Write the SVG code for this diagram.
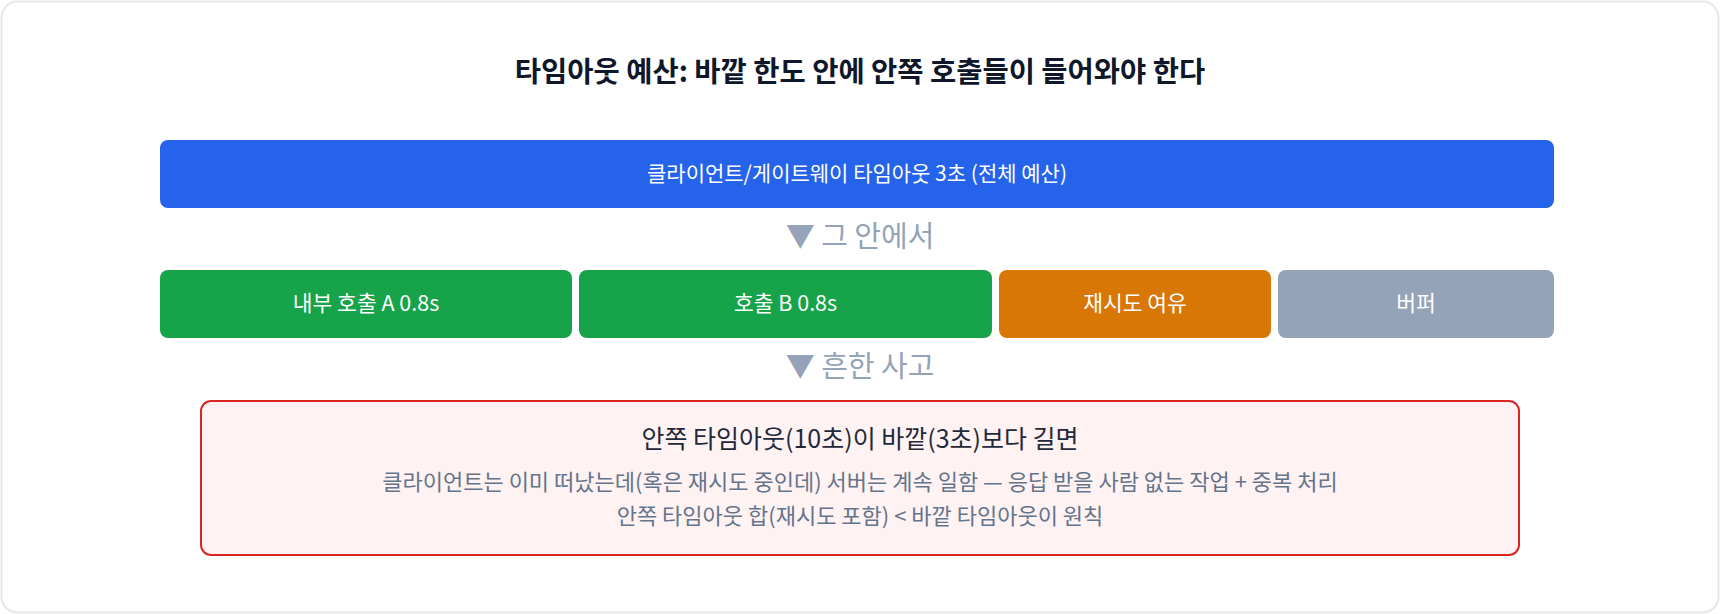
<svg xmlns="http://www.w3.org/2000/svg" width="1720" height="614" viewBox="0 0 1720 614">
<style>
text{font-family:"Noto Sans CJK KR","Noto Sans CJK JP",sans-serif;text-anchor:middle}
.title{font-size:28.5px;font-weight:700;fill:#0f172a}
.lbl{font-size:21px;fill:#ffffff}
.blbl{font-size:21.5px;fill:#ffffff}
.sep{font-size:29px;fill:#94a3b8}
.wtitle{font-size:25px;fill:#1e293b}
.wline{font-size:22px;fill:#64748b}
</style>
<rect x="1.5" y="1.5" width="1717" height="611" rx="16" fill="#ffffff" stroke="#e5e7eb" stroke-width="2"/>
<text class="title" x="860" y="82">타임아웃 예산: 바깥 한도 안에 안쪽 호출들이 들어와야 한다</text>
<g id="total">
<rect x="160" y="140" width="1394" height="68" rx="8" fill="#2563eb"/>
<text class="lbl" x="857" y="181">클라이언트/게이트웨이 타임아웃 3초 (전체 예산)</text>
</g>
<text class="sep" x="860" y="247">▼ 그 안에서</text>
<g id="callA">
<rect x="160" y="270" width="412" height="68" rx="8" fill="#16a34a"/>
<text class="blbl" x="366" y="311">내부 호출 A 0.8s</text>
</g>
<g id="callB">
<rect x="579" y="270" width="413" height="68" rx="8" fill="#16a34a"/>
<text class="blbl" x="785.5" y="311">호출 B 0.8s</text>
</g>
<g id="retry">
<rect x="999" y="270" width="272" height="68" rx="8" fill="#d97706"/>
<text class="blbl" x="1135" y="311">재시도 여유</text>
</g>
<g id="buffer">
<rect x="1278" y="270" width="276" height="68" rx="8" fill="#94a3b8"/>
<text class="blbl" x="1416" y="311">버퍼</text>
</g>
<text class="sep" x="860" y="377">▼ 흔한 사고</text>
<g id="warning">
<rect x="201" y="401" width="1318" height="154" rx="10" fill="#fef2f2" stroke="#dc2626" stroke-width="2"/>
<text class="wtitle" x="860" y="448">안쪽 타임아웃(10초)이 바깥(3초)보다 길면</text>
<text class="wline" x="860" y="490">클라이언트는 이미 떠났는데(혹은 재시도 중인데) 서버는 계속 일함 — 응답 받을 사람 없는 작업 + 중복 처리</text>
<text class="wline" x="860" y="524">안쪽 타임아웃 합(재시도 포함) &lt; 바깥 타임아웃이 원칙</text>
</g>
<g id="connectors"></g>
</svg>
